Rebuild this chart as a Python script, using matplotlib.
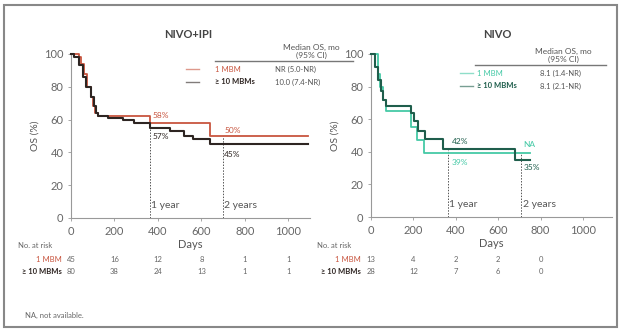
import matplotlib
matplotlib.use("agg")
import matplotlib.pyplot as plt
import matplotlib.transforms as mtransforms
from matplotlib.patches import Rectangle

plt.rcParams['font.family'] = ['Lato', 'DejaVu Sans']

# NIVO+IPI
ni_1_t = [0, 35, 45, 60, 75, 90, 100, 112, 125, 365, 640, 1090]
ni_1_s = [100, 98, 94, 88, 80, 74, 68, 64, 62, 58, 50, 50]
ni_10_t = [0, 15, 35, 55, 70, 90, 105, 115, 125, 170, 240, 290, 362, 455, 520, 560, 640, 1090]
ni_10_s = [100, 98, 93, 86, 80, 74, 68, 64, 62, 61, 60, 58, 55, 53, 50, 48, 45, 45]
# NIVO
n_1_t = [0, 33, 42, 55, 70, 190, 215, 250, 750]
n_1_s = [100, 88, 80, 72, 65, 55, 47, 39, 39]
n_10_t = [0, 20, 35, 45, 55, 70, 190, 205, 220, 255, 340, 680, 750]
n_10_s = [100, 92, 84, 77, 72, 68, 64, 59, 53, 48, 42, 35, 35]

risk_days_ni = [0, 200, 400, 600, 800, 1000]
risk_ni_1 = [45, 16, 12, 8, 1, 1]
risk_ni_10 = [80, 38, 24, 13, 1, 1]
risk_days_n = [0, 200, 400, 600, 800]
risk_n_1 = [13, 4, 2, 2, 0]
risk_n_10 = [28, 12, 7, 6, 0]

RED = "#c8553f"
DARK = "#2e2522"
LTEAL = "#45c9a6"
DTEAL = "#1f5e4c"

fig = plt.figure(figsize=(6.19, 3.29), dpi=100)
W, H = 619.0, 329.0
fig.patches.append(Rectangle((4 / W, 2 / H), 613 / W, 322 / H, transform=fig.transFigure,
                             fill=False, edgecolor="#888888", linewidth=1.5))


def fy(p):
    return 1 - p / H


def panel(rect, xmax, c1, c10, t1, s1, t10, s10, yr1, yr2):
    ax = fig.add_axes(rect)
    ax.step(t1, s1, where='post', color=c1, lw=1.3, zorder=3)
    ax.step(t10, s10, where='post', color=c10, lw=1.5, zorder=3)
    ax.set_xlim(0, xmax)
    ax.set_ylim(0, 100)
    ax.set_xticks([0, 200, 400, 600, 800, 1000])
    ax.set_yticks([0, 20, 40, 60, 80, 100])
    for s in ['top', 'right']:
        ax.spines[s].set_visible(False)
    for s in ['left', 'bottom']:
        ax.spines[s].set_color("#999999")
        ax.spines[s].set_linewidth(0.8)
    ax.tick_params(labelsize=8, colors="#999999", labelcolor="#666666", length=2, width=0.6)
    ax.set_xlabel("Days", fontsize=8, color="#555555", labelpad=2)
    ax.set_ylabel("OS (%)", fontsize=7.5, color="#555555", labelpad=3)
    for line in ax.lines:
        line.set_clip_on(False)
    # year markers
    ax.plot([yr1[0], yr1[0]], [0, yr1[1]], ls=(0, (1.5, 1.5)), color="#555555", lw=0.7)
    ax.plot([yr2[0], yr2[0]], [0, yr2[1]], ls=(0, (1.5, 1.5)), color="#555555", lw=0.7)
    ax.text(yr1[0] + 8, 6, "1 year", fontsize=7.5, color="#555555")
    ax.text(yr2[0] + 8, 6, "2 years", fontsize=7.5, color="#555555")
    return ax


ax1 = panel([71 / W, fy(218), 239 / W, 164 / H], 1100, RED, DARK,
            ni_1_t, ni_1_s, ni_10_t, ni_10_s, (362, 58), (698, 50))
ax1.text(375, 61, "58%", fontsize=6, color=RED)
ax1.text(375, 48, "57%", fontsize=6, color=DARK)
ax1.text(705, 52, "50%", fontsize=6, color=RED)
ax1.text(705, 37, "45%", fontsize=6, color=DARK)

ax2 = panel([371 / W, fy(217), 241 / W, 163 / H], 1137, LTEAL, DTEAL,
            n_1_t, n_1_s, n_10_t, n_10_s, (362, 42), (707, 39))
ax2.text(380, 45, "42%", fontsize=6, color=DTEAL)
ax2.text(380, 32, "39%", fontsize=6, color=LTEAL)
ax2.text(720, 43, "NA", fontsize=6, color=LTEAL)
ax2.text(720, 29, "35%", fontsize=6, color=DTEAL)

# titles
fig.text(188 / W, fy(35), "NIVO+IPI", fontsize=8, color="#444444", ha='center', va='center',
         fontweight='bold')
fig.text(497 / W, fy(35), "NIVO", fontsize=8, color="#444444", ha='center', va='center',
         fontweight='bold')


# median OS tables
def med_table(xc, y0, x_line0, x_line1, seg_x, name_x, val_x, c1, c10, v1, v10, txt1, txt10):
    fig.text(xc / W, fy(y0), "Median OS, mo", fontsize=6, color="#555555", ha='center', va='center')
    fig.text(xc / W, fy(y0 + 8), "(95% CI)", fontsize=6, color="#555555", ha='center', va='center')
    fig.add_artist(plt.Line2D([x_line0 / W, x_line1 / W], [fy(y0 + 14), fy(y0 + 14)],
                              color="#777777", lw=1.0))
    for i, (c, name, v, tc, bold) in enumerate([(c1, "1 MBM", v1, txt1, 'normal'),
                                                (c10, "≥ 10 MBMs", v10, txt10, 'bold')]):
        yy = fy(y0 + 22 + 13 * i)
        fig.add_artist(plt.Line2D([seg_x / W, (seg_x + 13) / W], [yy, yy], color=c, lw=1.0, alpha=0.6))
        fig.text(name_x / W, yy, name, fontsize=5.5, color=tc, ha='left', va='center', fontweight=bold)
        fig.text(val_x / W, yy, v, fontsize=5.5, color="#555555", ha='left', va='center')


med_table(311, 47, 215, 353, 186, 215, 275, RED, DARK, "NR (5.0-NR)", "10.0 (7.4-NR)", RED, DARK)
med_table(563, 51, 475, 606, 460, 477, 540, LTEAL, DTEAL, "8.1 (1.4-NR)", "8.1 (2.1-NR)", LTEAL, DTEAL)


# numbers at risk
def at_risk(ax, label_x, days, r1, r10):
    tr = mtransforms.blended_transform_factory(ax.transData, fig.transFigure)
    fig.text(label_x / W, fy(245), "No. at risk", fontsize=5.5, color="#666666", va='center')
    fig.text((label_x + 44) / W, fy(259), "1 MBM", fontsize=5.5, color=RED, ha='right', va='center')
    fig.text((label_x + 44) / W, fy(272), "≥ 10 MBMs", fontsize=5.5, color=DARK, ha='right',
             va='center', fontweight='bold')
    for d, a, b in zip(days, r1, r10):
        ax.text(d, fy(259), str(a), transform=tr, fontsize=5.5, color="#666666", ha='center', va='center')
        ax.text(d, fy(272), str(b), transform=tr, fontsize=5.5, color="#666666", ha='center', va='center')


at_risk(ax1, 18, risk_days_ni, risk_ni_1, risk_ni_10)
at_risk(ax2, 317, risk_days_n, risk_n_1, risk_n_10)

fig.text(25 / W, fy(315), "NA, not available.", fontsize=5.5, color="#666666", va='center')

fig.savefig("out.png", dpi=100)
